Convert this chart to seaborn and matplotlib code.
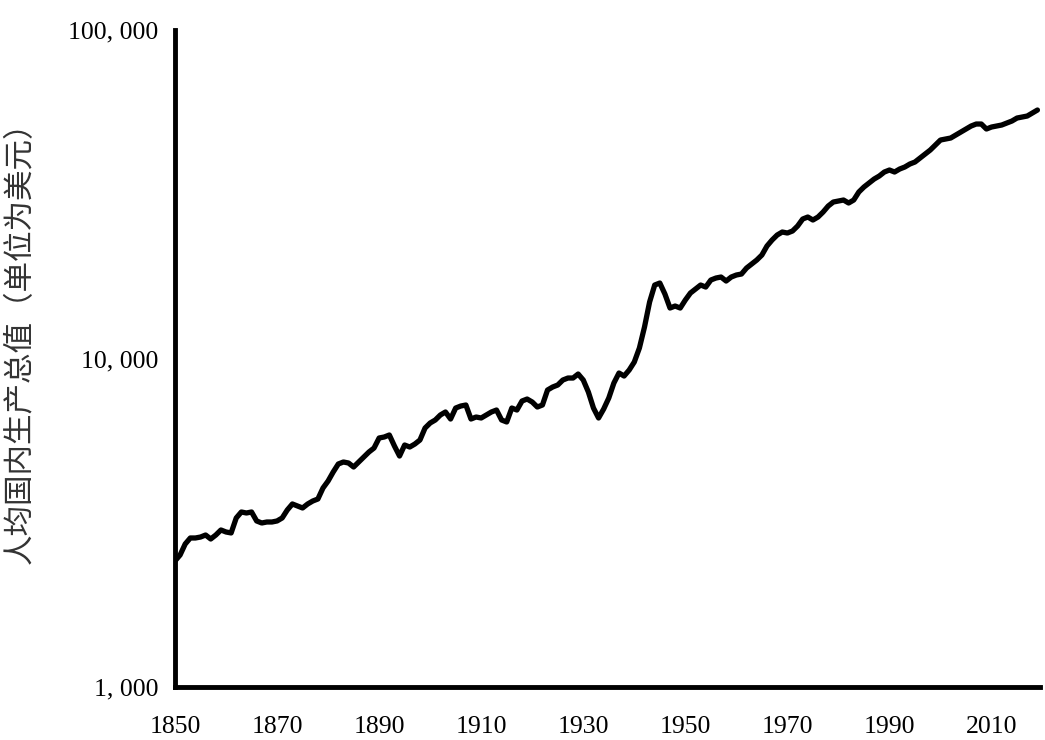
import numpy as np
import pandas as pd
import matplotlib
matplotlib.use("Agg")
import matplotlib.pyplot as plt
import seaborn as sns
from matplotlib.ticker import FixedLocator, NullLocator

# 人均GDP（美元），1850-2019，按年读取
years = list(range(1850, 2020))
gdp_per_capita = [
    2420, 2523, 2725, 2842, 2842, 2861, 2902, 2822, 2902, 3006,   # 1850-1859
    2964, 2944, 3270, 3410, 3386, 3410, 3202, 3157, 3179, 3179,   # 1860-1869
    3202, 3270, 3458, 3607, 3556, 3507, 3607, 3683, 3735, 4034,   # 1870-1879
    4237, 4513, 4774, 4841, 4807, 4674, 4841, 5013, 5192, 5339,   # 1880-1889
    5728, 5768, 5850, 5415, 5048, 5453, 5377, 5491, 5648, 6143,   # 1890-1899
    6363, 6498, 6730, 6873, 6543, 7067, 7167, 7218, 6543, 6636,   # 1900-1909
    6590, 6730, 6873, 6969, 6498, 6408, 7067, 6969, 7423, 7527,   # 1910-1919
    7371, 7117, 7218, 8018, 8188, 8304, 8600, 8721, 8721, 8970,   # 1920-1929
    8600, 7907, 7067, 6590, 7018, 7580, 8421, 9033, 8844, 9224,   # 1930-1939
    9756, 10762, 12468, 14857, 16737, 16973, 15714, 14244, 14445, 14244,  # 1940-1949
    15066, 15824, 16273, 16737, 16503, 17334, 17578, 17702, 17213, 17702,  # 1950-1959
    17953, 18079, 18854, 19391, 19942, 20654, 21997, 22944, 23764, 24268,  # 1960-1969
    24098, 24438, 25309, 26582, 26957, 26397, 26957, 27920, 29117, 29947,  # 1970-1979
    30156, 30369, 29739, 30369, 32121, 33265, 34212, 35184, 35931, 36955,  # 1980-1989
    37476, 36955, 37738, 38271, 39088, 39639, 40764, 41925, 43116, 44655,  # 1990-1999
    46246, 46570, 46898, 47897, 48914, 49951, 51013, 51737, 51737, 49951,  # 2000-2009
    50656, 51013, 51375, 52099, 52833, 53956, 54334, 54717, 55882, 57069,  # 2010-2019
]

x_ticks = [1850, 1870, 1890, 1910, 1930, 1950, 1970, 1990, 2010]
y_ticks = [1000, 10000, 100000]
y_tick_labels = ["1, 000", "10, 000", "100, 000"]
y_label = "人均国内生产总值（单位为美元）"

df = pd.DataFrame({"year": years, "gdp": gdp_per_capita})

sns.set_theme(style="white")
plt.rcParams["font.family"] = ["Liberation Serif", "Noto Sans CJK SC", "DejaVu Sans"]

W, H = 1045, 740
fig = plt.figure(figsize=(W / 100, H / 100), dpi=100)
ax = fig.add_axes([175 / W, 1 - 687 / H, 865 / W, 657 / H])

sns.lineplot(data=df, x="year", y="gdp", color="black", linewidth=3.8, ax=ax)

ax.set_yscale("log")
ax.set_ylim(1000, 100000)
ax.set_xlim(1850, 2019.5)
ax.yaxis.set_major_locator(FixedLocator(y_ticks))
ax.yaxis.set_minor_locator(NullLocator())
ax.set_yticklabels(y_tick_labels)
ax.set_xticks(x_ticks)
ax.set_xticklabels([str(t) for t in x_ticks])

sns.despine(ax=ax)
for side in ["left", "bottom"]:
    ax.spines[side].set_linewidth(3.5)
    ax.spines[side].set_color("black")

ax.tick_params(axis="y", length=0, labelsize=18.5, pad=12, colors="black")
ax.tick_params(axis="x", length=0, labelsize=18.5, pad=21, colors="black")

ax.set_xlabel("")
ax.set_ylabel(y_label, fontsize=22, family=["Noto Sans CJK SC", "DejaVu Sans"],
              color="#333333", fontweight="light")
ax.yaxis.set_label_coords(-0.161, 0.536)

fig.savefig("out.png", dpi=100)
